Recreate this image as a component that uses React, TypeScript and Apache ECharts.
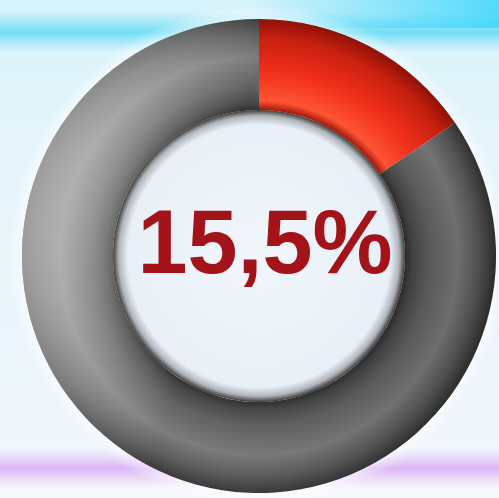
import React, { useEffect, useRef } from "react";
import * as echarts from "echarts";

const categories = ["Share", "Rest"];
const shareValues = [15.5, 84.5];
const centerLabel = shareValues[0].toFixed(1).replace(".", ",") + "%";

const CX = 259;
const CY = 256;
const R_OUT = 237;
const R_IN = 146;

export default function App() {
  const ref = useRef<HTMLDivElement>(null);
  useEffect(() => {
    if (!ref.current) return;
    const chart = echarts.init(ref.current, null, { renderer: "svg" });
    const ringRatio = R_IN / R_OUT;
    const rad = (stops: [number, string][]) => ({
      type: "radial",
      x: CX,
      y: CY,
      r: R_OUT,
      global: true,
      colorStops: stops.map(([o, c]) => ({ offset: o, color: c })),
    });
    const greyGrad = rad([
      [0, "#262626"],
      [ringRatio, "#262626"],
      [ringRatio + 0.03, "#3e3e3e"],
      [ringRatio + 0.1, "#5a5a5a"],
      [0.84, "#767676"],
      [0.93, "#555555"],
      [1, "#303030"],
    ]);
    const redGrad = rad([
      [0, "#a01808"],
      [ringRatio, "#a01808"],
      [ringRatio + 0.04, "#ff5434"],
      [0.78, "#f0301a"],
      [0.92, "#c82010"],
      [1, "#8e1206"],
    ]);
    const data = categories.map((name, i) => ({
      name,
      value: shareValues[i],
      itemStyle: { color: i === 0 ? redGrad : greyGrad },
    }));
    const overlayData = categories.map((name, i) => ({
      name,
      value: shareValues[i],
      itemStyle: {
        color:
          i === 0
            ? "rgba(0,0,0,0)"
            : {
                type: "linear",
                x: CX - R_OUT,
                y: CY - 60,
                x2: CX + R_OUT,
                y2: CY + 60,
                global: true,
                colorStops: [
                  { offset: 0, color: "rgba(255,255,255,0.55)" },
                  { offset: 0.4, color: "rgba(255,255,255,0.05)" },
                  { offset: 1, color: "rgba(0,0,0,0.12)" },
                ],
              },
      },
    }));
    chart.setOption({
      animation: false,
      backgroundColor: {
        type: "linear",
        x: 0,
        y: 0,
        x2: 0,
        y2: 1,
        colorStops: [
          { offset: 0, color: "#d6f2fa" },
          { offset: 0.3, color: "#e6f5fb" },
          { offset: 0.85, color: "#eef6fb" },
          { offset: 1, color: "#f6f8fb" },
        ],
      },
      graphic: [
        {
          type: "rect",
          z: -5,
          shape: { x: 0, y: 12, width: 499, height: 40 },
          style: {
            fill: {
              type: "linear",
              x: 0,
              y: 0,
              x2: 0,
              y2: 1,
              colorStops: [
                { offset: 0, color: "rgba(90,215,245,0)" },
                { offset: 0.5, color: "rgba(80,215,245,0.75)" },
                { offset: 1, color: "rgba(90,215,245,0)" },
              ],
            },
          },
        },
        {
          type: "rect",
          z: -5,
          shape: { x: 250, y: 0, width: 249, height: 28 },
          style: {
            fill: {
              type: "linear",
              x: 0,
              y: 0,
              x2: 1,
              y2: 0,
              colorStops: [
                { offset: 0, color: "rgba(60,215,250,0)" },
                { offset: 1, color: "rgba(60,215,250,0.85)" },
              ],
            },
          },
        },
        {
          type: "rect",
          z: -5,
          shape: { x: 0, y: 448, width: 499, height: 40 },
          style: {
            fill: {
              type: "linear",
              x: 0,
              y: 0,
              x2: 0,
              y2: 1,
              colorStops: [
                { offset: 0, color: "rgba(220,180,245,0)" },
                { offset: 0.5, color: "rgba(215,170,245,0.85)" },
                { offset: 1, color: "rgba(220,180,245,0)" },
              ],
            },
          },
        },
        {
          type: "text",
          z: 100,
          x: CX + 6,
          y: CY - 14,
          style: {
            text: centerLabel,
            fill: "#a3141a",
            font: "bold 90px 'Liberation Sans', sans-serif",
            align: "center",
            verticalAlign: "middle",
          },
        },
      ],
      series: [
        {
          type: "pie",
          silent: true,
          center: [CX, CY],
          radius: [0, R_OUT + 14],
          label: { show: false },
          labelLine: { show: false },
          z: 1,
          data: [
            {
              value: 1,
              itemStyle: {
                color: {
                  type: "radial",
                  x: CX,
                  y: CY,
                  r: R_OUT + 14,
                  global: true,
                  colorStops: [
                    { offset: 0, color: "rgba(255,255,255,0.9)" },
                    { offset: 0.9, color: "rgba(255,255,255,0.9)" },
                    { offset: 1, color: "rgba(255,255,255,0)" },
                  ],
                },
              },
            },
          ],
        },
        {
          type: "pie",
          silent: true,
          center: [CX, CY],
          radius: [0, R_IN],
          label: { show: false },
          labelLine: { show: false },
          z: 2,
          data: [
            {
              value: 1,
              itemStyle: {
                color: {
                  type: "radial",
                  x: CX,
                  y: CY,
                  r: R_IN,
                  global: true,
                  colorStops: [
                    { offset: 0, color: "#f2f6fb" },
                    { offset: 0.9, color: "#e8f0f7" },
                    { offset: 0.96, color: "#b0b5ba" },
                    { offset: 1, color: "#3a3a3a" },
                  ],
                },
              },
            },
          ],
        },
        {
          type: "pie",
          name: "share",
          center: [CX, CY],
          radius: [R_IN, R_OUT],
          startAngle: 90,
          clockwise: true,
          label: { show: false },
          labelLine: { show: false },
          itemStyle: { borderWidth: 0 },
          z: 3,
          data,
        },
        {
          type: "pie",
          silent: true,
          center: [CX, CY],
          radius: [R_IN, R_OUT],
          startAngle: 90,
          clockwise: true,
          label: { show: false },
          labelLine: { show: false },
          itemStyle: { borderWidth: 0 },
          z: 4,
          data: overlayData,
        },
      ],
    });
    return () => chart.dispose();
  }, []);
  return (
    <div
      ref={ref}
      style={{ position: "fixed", left: 0, top: 0, width: 499, height: 498 }}
    />
  );
}
